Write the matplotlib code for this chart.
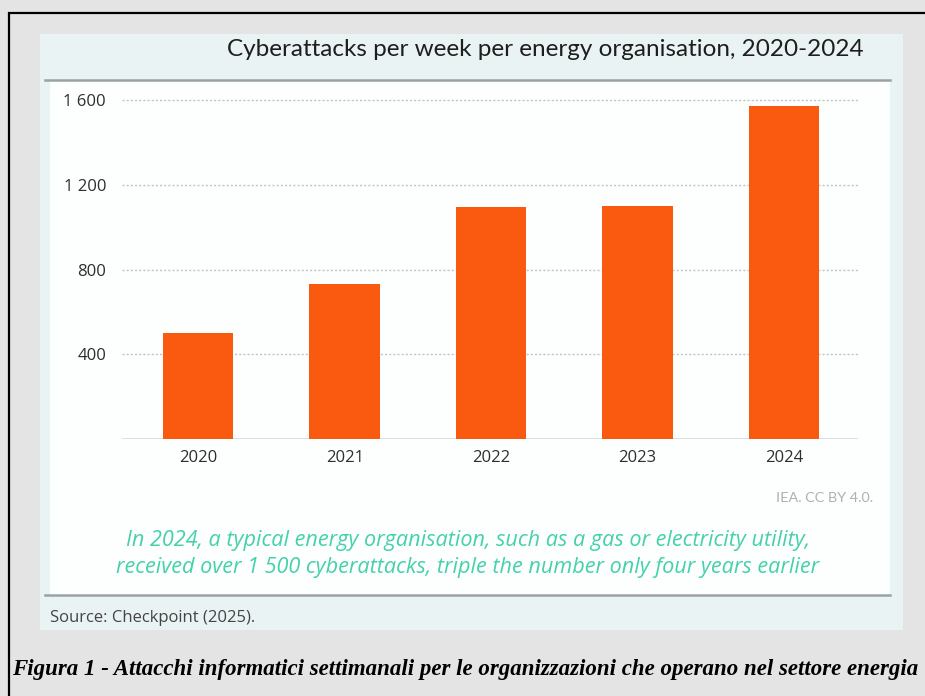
import matplotlib
matplotlib.use("Agg")
import matplotlib.pyplot as plt
from matplotlib.patches import Rectangle
from matplotlib.lines import Line2D

# data
years = ["2020", "2021", "2022", "2023", "2024"]
attacks = [500, 730, 1095, 1100, 1570]
yticks = [400, 800, 1200, 1600]
ytick_labels = ["400", "800", "1 200", "1 600"]

title = "Cyberattacks per week per energy organisation, 2020-2024"
note = ("In 2024, a typical energy organisation, such as a gas or electricity utility,\n"
        "received over 1 500 cyberattacks, triple the number only four years earlier")
credit = "IEA. CC BY 4.0."
source = "Source: Checkpoint (2025)."
caption = ("Figura 1 - Attacchi informatici settimanali per le organizzazioni "
           "che operano nel settore energia")

W, H = 925, 696
BAR = "#fa5a10"
GREEN = "#45d1ab"


def fx(px):
    return px / W


def fy(py):
    return 1 - py / H


fig = plt.figure(figsize=(W / 100, H / 100), dpi=100, facecolor="#e4e4e4")

# outer frame + panels (behind the axes)
fig.patches.append(Rectangle((fx(9), fy(700)), fx(930) - fx(9), fy(13) - fy(700),
                             transform=fig.transFigure, fill=False,
                             edgecolor="black", linewidth=1.6, zorder=-3))
fig.patches.append(Rectangle((fx(40), fy(630)), fx(903) - fx(40), fy(34) - fy(630),
                             transform=fig.transFigure, facecolor="#eaf3f3",
                             edgecolor="none", zorder=-3))
fig.patches.append(Rectangle((fx(50), fy(595)), fx(890) - fx(50), fy(80) - fy(595),
                             transform=fig.transFigure, facecolor="#fdfefe",
                             edgecolor="none", zorder=-2))
for yy in (80, 595):
    fig.lines.append(Line2D([fx(45), fx(890)], [fy(yy), fy(yy)],
                            transform=fig.transFigure, color="#9aa3a3",
                            linewidth=1.8, zorder=-1))

ax = fig.add_axes([fx(122), fy(439), fx(858) - fx(122), fy(100) - fy(439)])
ax.set_zorder(1)
ax.set_facecolor("none")
pos = list(range(len(years)))
ax.bar(pos, attacks, width=0.48, color=BAR, zorder=3)
ax.set_xlim(-0.52, 4.505)
ax.set_ylim(0, 1600)
ax.set_yticks(yticks)
ax.set_yticklabels(ytick_labels)
ax.set_xticks(pos)
ax.set_xticklabels(years)
for y in yticks:
    ax.axhline(y, color="#c4c4c4", linestyle=(0, (1.5, 1.5)), linewidth=1,
               zorder=1, clip_on=False)
ax.axhline(0, color="#d4dcdc", linewidth=1.2, zorder=2)
for s in ax.spines.values():
    s.set_visible(False)
ax.tick_params(length=0, labelsize=12, labelcolor="#2e2e2e", pad=8)
ax.tick_params(axis="y", pad=11.5)
for lab in ax.get_xticklabels() + ax.get_yticklabels():
    lab.set_family("Open Sans")

fig.text(fx(864), fy(50), title, ha="right", va="center", fontsize=17.5,
         family="Lato", color="#1e1e1e")
fig.text(fx(873), fy(498), credit, ha="right", va="center", fontsize=10.4,
         family="Lato", color="#b0b0b0")
fig.text(fx(468), fy(554), note, ha="center", va="center", fontsize=15.6,
         family="Open Sans", style="italic", color=GREEN, linespacing=1.38)
fig.text(fx(50), fy(618), source, ha="left", va="center", fontsize=12,
         family="Open Sans", color="#444444")
fig.text(fx(465), fy(670), caption, ha="center", va="center", fontsize=16.5,
         family="Liberation Serif", style="italic", weight="bold", color="black")

fig.savefig("out.png", dpi=100, facecolor=fig.get_facecolor())
